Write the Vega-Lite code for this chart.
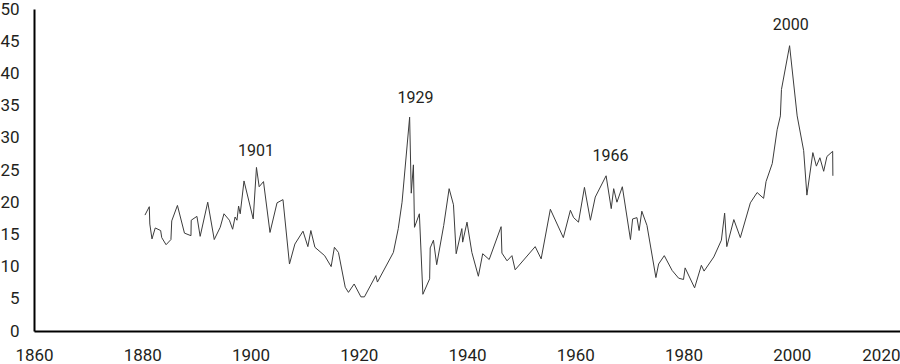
{
  "$schema": "https://vega.github.io/schema/vega-lite/v6.json",
  "width": 866,
  "height": 322,
  "autosize": {"type": "none"},
  "padding": {"left": 34, "top": 9, "right": 0, "bottom": 33},
  "background": "white",
  "config": {"view": {"stroke": null}, "font": "Roboto"},
  "encoding": {
    "x": {
      "field": "year", "type": "quantitative",
      "scale": {"domain": [1860, 2020], "nice": false, "zero": false},
      "axis": {
        "title": null,
        "values": [1860, 1880, 1900, 1920, 1940, 1960, 1980, 2000, 2020],
        "format": "d", "grid": false, "ticks": false,
        "domainColor": "#000000", "domainWidth": 2,
        "labelFont": "Roboto", "labelFontSize": 17,
        "labelColor": "#231f20", "labelPadding": 16, "labelOverlap": false,
        "labelAlign": {"condition": {"test": "datum.value == 2020", "value": "right"}, "value": "center"}
      }
    },
    "y": {
      "field": "value", "type": "quantitative",
      "scale": {"domain": [0, 50], "nice": false},
      "axis": {
        "title": null,
        "values": [0, 5, 10, 15, 20, 25, 30, 35, 40, 45, 50],
        "grid": false, "ticks": false,
        "domainColor": "#000000", "domainWidth": 2,
        "labelFont": "Roboto", "labelFontSize": 17,
        "labelColor": "#231f20", "labelPadding": 15, "labelOverlap": false
      }
    }
  },
  "layer": [
    {
      "data": {"values": [
        {"year": 1880.5, "value": 18.0},
        {"year": 1881.3, "value": 19.3},
        {"year": 1881.4, "value": 16.6},
        {"year": 1881.8, "value": 14.3},
        {"year": 1882.4, "value": 16.0},
        {"year": 1883.4, "value": 15.6},
        {"year": 1883.6, "value": 14.5},
        {"year": 1884.4, "value": 13.4},
        {"year": 1885.3, "value": 14.2},
        {"year": 1885.45, "value": 17.1},
        {"year": 1886.5, "value": 19.5},
        {"year": 1887.8, "value": 15.2},
        {"year": 1889.0, "value": 14.8},
        {"year": 1889.05, "value": 17.2},
        {"year": 1890.1, "value": 17.8},
        {"year": 1890.7, "value": 14.7},
        {"year": 1892.1, "value": 20.0},
        {"year": 1893.3, "value": 14.2},
        {"year": 1894.4, "value": 16.1},
        {"year": 1895.1, "value": 18.2},
        {"year": 1896.1, "value": 17.2},
        {"year": 1896.7, "value": 15.8},
        {"year": 1897.15, "value": 17.7},
        {"year": 1897.5, "value": 17.2},
        {"year": 1897.8, "value": 19.4},
        {"year": 1898.1, "value": 18.2},
        {"year": 1898.8, "value": 23.3},
        {"year": 1900.5, "value": 17.4},
        {"year": 1901.1, "value": 25.4},
        {"year": 1901.6, "value": 22.4},
        {"year": 1902.4, "value": 23.2},
        {"year": 1903.6, "value": 15.3},
        {"year": 1904.9, "value": 19.9},
        {"year": 1906.0, "value": 20.4},
        {"year": 1907.2, "value": 10.4},
        {"year": 1908.2, "value": 13.5},
        {"year": 1909.7, "value": 15.5},
        {"year": 1910.6, "value": 13.1},
        {"year": 1911.15, "value": 15.6},
        {"year": 1911.9, "value": 13.0},
        {"year": 1913.7, "value": 11.7},
        {"year": 1914.9, "value": 10.0},
        {"year": 1915.5, "value": 13.0},
        {"year": 1916.25, "value": 12.2},
        {"year": 1917.5, "value": 6.8},
        {"year": 1918.1, "value": 6.0},
        {"year": 1919.15, "value": 7.3},
        {"year": 1920.4, "value": 5.3},
        {"year": 1921.05, "value": 5.3},
        {"year": 1923.15, "value": 8.6},
        {"year": 1923.45, "value": 7.6},
        {"year": 1926.4, "value": 12.2},
        {"year": 1927.3, "value": 15.9},
        {"year": 1928.0, "value": 20.0},
        {"year": 1929.4, "value": 33.2},
        {"year": 1929.7, "value": 21.4},
        {"year": 1930.1, "value": 25.8},
        {"year": 1930.3, "value": 16.1},
        {"year": 1931.2, "value": 18.2},
        {"year": 1931.85, "value": 5.7},
        {"year": 1933.1, "value": 8.1},
        {"year": 1933.2, "value": 12.9},
        {"year": 1933.8, "value": 14.1},
        {"year": 1934.4, "value": 10.3},
        {"year": 1935.7, "value": 16.4},
        {"year": 1936.7, "value": 22.1},
        {"year": 1937.5, "value": 19.6},
        {"year": 1938.0, "value": 12.0},
        {"year": 1939.05, "value": 15.9},
        {"year": 1939.2, "value": 13.8},
        {"year": 1940.0, "value": 16.9},
        {"year": 1940.9, "value": 12.2},
        {"year": 1942.1, "value": 8.5},
        {"year": 1942.9, "value": 12.0},
        {"year": 1944.1, "value": 11.1},
        {"year": 1946.3, "value": 16.2},
        {"year": 1946.45, "value": 12.1},
        {"year": 1947.4, "value": 10.9},
        {"year": 1948.3, "value": 11.7},
        {"year": 1948.9, "value": 9.5},
        {"year": 1952.6, "value": 13.1},
        {"year": 1953.7, "value": 11.2},
        {"year": 1955.4, "value": 18.9},
        {"year": 1957.8, "value": 14.5},
        {"year": 1959.1, "value": 18.75},
        {"year": 1959.7, "value": 17.6},
        {"year": 1960.6, "value": 16.9},
        {"year": 1961.7, "value": 22.3},
        {"year": 1962.8, "value": 17.2},
        {"year": 1963.7, "value": 20.8},
        {"year": 1965.7, "value": 24.1},
        {"year": 1966.65, "value": 19.0},
        {"year": 1967.1, "value": 22.1},
        {"year": 1967.7, "value": 20.0},
        {"year": 1968.7, "value": 22.4},
        {"year": 1970.2, "value": 14.2},
        {"year": 1970.6, "value": 17.4},
        {"year": 1971.4, "value": 17.6},
        {"year": 1971.8, "value": 15.6},
        {"year": 1972.3, "value": 18.6},
        {"year": 1973.25, "value": 16.4},
        {"year": 1974.9, "value": 8.3},
        {"year": 1975.4, "value": 10.4},
        {"year": 1976.45, "value": 11.7},
        {"year": 1977.9, "value": 9.4},
        {"year": 1979.1, "value": 8.2},
        {"year": 1980.0, "value": 8.0},
        {"year": 1980.3, "value": 9.8},
        {"year": 1982.05, "value": 6.7},
        {"year": 1983.3, "value": 10.2},
        {"year": 1983.8, "value": 9.3},
        {"year": 1985.6, "value": 11.5},
        {"year": 1987.0, "value": 14.1},
        {"year": 1987.6, "value": 18.3},
        {"year": 1988.0, "value": 13.1},
        {"year": 1989.3, "value": 17.3},
        {"year": 1990.5, "value": 14.5},
        {"year": 1992.35, "value": 19.9},
        {"year": 1993.6, "value": 21.5},
        {"year": 1994.8, "value": 20.6},
        {"year": 1995.25, "value": 23.2},
        {"year": 1996.4, "value": 26.0},
        {"year": 1997.3, "value": 31.25},
        {"year": 1997.9, "value": 33.4},
        {"year": 1998.1, "value": 37.5},
        {"year": 1999.6, "value": 44.3},
        {"year": 2001.0, "value": 33.4},
        {"year": 2002.2, "value": 28.0},
        {"year": 2002.8, "value": 21.1},
        {"year": 2003.9, "value": 27.7},
        {"year": 2004.55, "value": 25.6},
        {"year": 2005.2, "value": 26.9},
        {"year": 2005.9, "value": 24.8},
        {"year": 2006.5, "value": 27.1},
        {"year": 2007.56, "value": 27.9},
        {"year": 2007.6, "value": 24.1}
      ]},
      "mark": {"type": "line", "color": "#3c3c3c", "strokeWidth": 1}
    },
    {
      "data": {"values": [
        {"year": 1901.0, "value": 28.0, "label": "1901"},
        {"year": 1930.5, "value": 36.2, "label": "1929"},
        {"year": 1966.5, "value": 27.1, "label": "1966"},
        {"year": 1999.8, "value": 47.5, "label": "2000"}
      ]},
      "mark": {"type": "text", "font": "Roboto", "fontSize": 16, "color": "#231f20", "align": "center", "baseline": "middle"},
      "encoding": {
        "text": {"field": "label"}
      }
    }
  ]
}
